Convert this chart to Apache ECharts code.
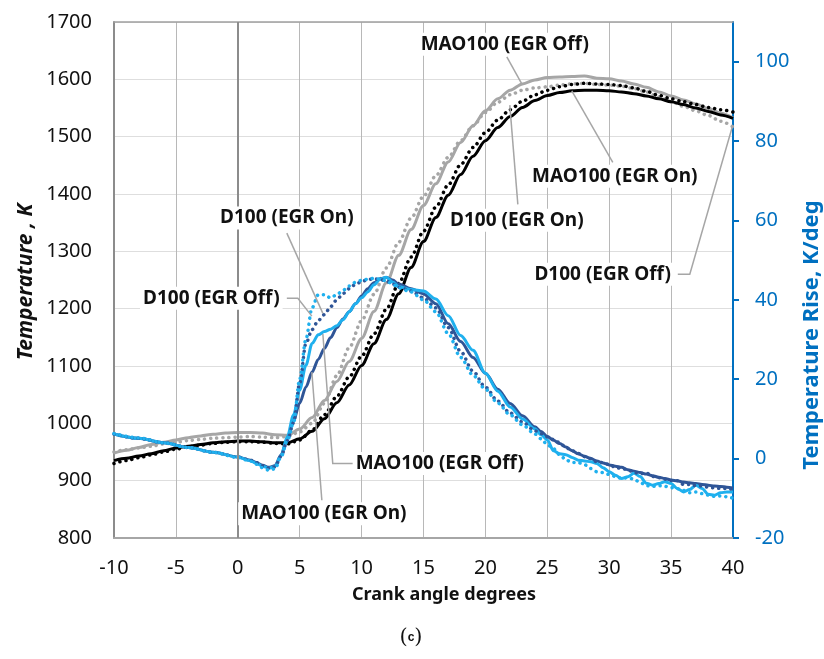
<!DOCTYPE html>
<html><head><meta charset="utf-8">
<script src="https://cdn.jsdelivr.net/npm/echarts@6/dist/echarts.min.js"></script>
<style>html,body{margin:0;padding:0;background:#fff}#c{width:824px;height:659px}</style>
</head><body><div id="c"></div>
<script>
// ---- Temperature (left axis, K) ----
const cadT = [-10,-9,-8,-7,-6,-5,-4,-3,-2,-1,0,1,2,3,4,5,6,7,8,9,10,11,12,13,14,15,16,17,18,19,20,21,22,23,24,25,26,27,28,29,30,31,32,33,34,35,36,37,38,39,40];
const T_MAO_off = [948,953,958,963,967,971,975,978,981,983,984,984,983,980,979,990,1010,1040,1073,1108,1148,1195,1245,1293,1338,1380,1418,1456,1490,1519,1545,1566,1581,1592,1599,1603,1604,1605,1606,1602,1601,1597,1592,1586,1578,1571,1564,1557,1549,1541,1533];
const T_D_off   = [950,954,957,960,964,967,970,972,974,975,976,977,976,975,977,985,1000,1035,1083,1132,1179,1225,1271,1316,1358,1396,1432,1464,1493,1519,1542,1560,1573,1581,1585,1587,1590,1592,1593,1591,1590,1588,1584,1578,1569,1561,1553,1545,1537,1527,1517];
const T_D_on    = [930,935,940,945,950,955,959,962,965,967,968,968,967,965,964,971,988,1015,1047,1081,1117,1156,1199,1244,1290,1335,1377,1416,1451,1481,1507,1529,1547,1562,1573,1581,1587,1591,1593,1592,1591,1589,1585,1579,1572,1566,1561,1556,1551,1547,1543];
const T_MAO_on  = [935,939,943,947,952,957,960,963,966,968,969,969,968,966,966,973,986,1008,1036,1067,1101,1139,1181,1226,1272,1317,1359,1398,1434,1466,1493,1516,1535,1551,1563,1572,1577,1580,1581,1581,1580,1578,1575,1571,1566,1561,1556,1550,1544,1538,1532];

// ---- Temperature rise (right axis, K/deg) ----
const cadR = [-10,-8,-6,-4,-2,0,1,1.5,2,2.5,3,3.5,4,4.5,5,5.5,6,6.5,7,7.5,8,8.5,9,9.5,10,10.5,11,11.5,12,12.5,13,14,15,16,17,18,19,20,21,22,23,24,24.5,25,25.5,26,26.5,27,27.5,28,28.5,29,29.5,30,30.5,31,31.5,32,32.5,33,33.5,34,34.5,35,35.5,36,36.5,37,37.5,38,38.5,39,39.5,40];
const R_MAO_on  = [6.2,5.1,4.0,2.8,1.6,0.4,-0.4,-1.0,-1.7,-2.2,-1.8,1.0,5.0,9.5,14.0,18.0,21.8,25.0,27.8,30.5,33.0,35.2,37.0,39.0,41.0,42.8,44.3,45.3,45.6,45.0,44.0,42.8,41.5,39.0,34.0,29.5,25.5,21.5,17.5,13.9,10.8,8.0,6.8,5.6,4.6,3.8,2.9,2.0,1.2,0.6,0.0,-0.6,-1.1,-1.6,-1.9,-2.2,-2.8,-3.2,-3.5,-3.9,-4.3,-4.7,-5.0,-5.4,-5.6,-5.9,-6.1,-6.3,-6.5,-6.7,-6.9,-7.0,-7.2,-7.4];
const R_MAO_off = [6.2,5.1,4.0,2.8,1.6,0.4,-0.5,-1.2,-1.9,-2.4,-2.0,0.8,5.5,11.0,17.3,23.5,29.0,31.2,32.0,32.6,33.5,35.0,37.0,39.0,40.5,42.0,43.8,45.2,45.7,44.5,43.3,42.6,42.2,40.2,36.0,31.0,27.3,21.5,17.0,13.0,10.0,7.5,6.0,4.7,2.0,1.2,1.0,0.3,-0.4,-0.6,-0.8,-1.2,-2.3,-3.3,-4.2,-5.0,-4.6,-3.7,-4.5,-6.2,-6.7,-6.3,-5.8,-6.3,-7.5,-8.4,-7.8,-6.7,-7.5,-9.0,-9.2,-8.6,-8.4,-8.4];
const R_D_on    = [6.2,5.1,4.0,2.8,1.6,0.4,-0.4,-1.0,-1.8,-2.4,-2.1,0.6,4.5,9.0,19.0,29.0,32.5,34.8,36.3,38.3,40.0,41.6,42.8,43.9,44.6,45.1,45.3,45.1,44.7,44.0,43.2,42.2,40.5,38.0,33.0,27.0,22.0,18.0,14.5,11.5,9.2,7.0,6.3,5.5,4.8,4.0,2.8,2.0,1.3,0.5,0.0,-0.8,-1.0,-1.5,-2.2,-2.5,-2.8,-3.5,-3.8,-3.6,-4.5,-4.8,-5.2,-5.5,-5.6,-6.5,-6.5,-6.8,-6.9,-7.2,-7.4,-7.5,-7.5,-7.8];
const R_D_off   = [6.3,5.2,4.0,2.8,1.6,0.3,-0.6,-1.4,-2.3,-2.9,-2.6,0.5,4.5,9.0,20.0,30.0,38.0,41.3,41.3,40.5,41.3,42.4,43.5,44.4,44.9,45.2,45.4,45.2,44.8,44.0,43.0,42.0,40.0,37.0,31.5,25.5,21.0,17.5,14.0,11.0,8.5,6.2,5.0,3.5,2.5,1.0,-0.3,-1.0,-1.0,-1.5,-2.5,-3.3,-3.5,-4.0,-4.5,-5.0,-4.8,-5.2,-6.0,-6.8,-7.0,-6.8,-7.0,-7.3,-7.6,-8.0,-8.6,-8.4,-8.8,-9.2,-9.5,-9.4,-9.6,-10.0];

// ---- Axis ticks ----
const xTicks = [-10,-5,0,5,10,15,20,25,30,35,40];
const leftTicks = [800,900,1000,1100,1200,1300,1400,1500,1600,1700];
const rightTicks = [-20,0,20,40,60,80,100];

// ---- Annotations (text, axis index, label anchor, leader line) ----
const annText = ['MAO100 (EGR Off)','MAO100 (EGR On)','D100 (EGR On)','D100 (EGR Off)','D100 (EGR On)','D100 (EGR Off)','MAO100 (EGR Off)','MAO100 (EGR On)'];
const annAxis = [0,0,0,0,1,1,1,1];
const annAt = [[21.57,1661],[30.45,1431],[22.54,1354],[29.48,1260],[3.96,60.6],[-2.14,40.4],[16.32,-1.2],[6.95,-13.9]];
const annLeader = [
  [[21.73,1639],[22.94,1592]],
  [[30.29,1455],[26.98,1580]],
  [[22.62,1382],[21.97,1555]],
  [[35.54,1260],[36.51,1260],[39.98,1520]],
  [[3.96,56.8],[6.87,36.6]],
  [[3.96,40.4],[4.85,40.4],[5.98,35.9]],
  [[9.45,-1.2],[7.67,-1.2],[6.87,31.4]],
  [[6.79,-10.5],[5.98,21.8]]
];

const FONT = '"Noto Sans", "DejaVu Sans", sans-serif';
const GREY = '#a6a6a6', BLACK = '#000000', DBLUE = '#2f5597', LBLUE = '#1fb0ee', AXBLUE = '#0070c0';
const DOT = [0.1, 6];

function pairs(xs, ys){ return xs.map((x,i)=>[x, ys[i]]); }
function mk(name, xs, ys, yIdx, color, dotted, width, extra){
  return Object.assign({
    name, type:'line', yAxisIndex:yIdx, data:pairs(xs, ys), showSymbol:false, symbol:'none',
    smooth:0.3, smoothMonotone:'x', silent:true, animation:false,
    lineStyle:{color, width, type: dotted ? DOT : 'solid', cap: dotted ? 'round' : 'butt'}
  }, extra || {});
}

const chart = echarts.init(document.getElementById('c'), null, {renderer:'canvas'});
const option = {
  animation:false,
  backgroundColor:'#fff',
  grid:{left:114, right:91, top:22, bottom:121, containLabel:false},
  xAxis:[
    {type:'value', min:-10, max:40, interval:5, position:'bottom',
     axisLine:{show:true, onZero:false, lineStyle:{color:'#a6a6a6', width:2}},
     axisTick:{show:false},
     axisLabel:{customValues:xTicks, color:'#111', fontFamily:FONT, fontSize:20, margin:20,
       formatter:v=>String(v)},
     splitLine:{show:true, lineStyle:{color:'#b8b8b8', width:1}}},
    {type:'value', min:-10, max:40, interval:5, position:'top',
     axisLine:{show:true, onZero:false, lineStyle:{color:'#a0a0a0', width:1.5}},
     axisTick:{show:false}, axisLabel:{show:false}, splitLine:{show:false}}
  ],
  yAxis:[
    {type:'value', min:800, max:1700, interval:100, position:'left',
     axisLine:{show:true, onZero:false, lineStyle:{color:'#8c8c8c', width:2}},
     axisTick:{show:false},
     axisLabel:{customValues:leftTicks, color:'#111', fontFamily:FONT, fontSize:20, margin:22,
       formatter:v=>String(v)},
     splitLine:{show:true, lineStyle:{color:'#dedede', width:1}}},
    {type:'value', min:-20, max:110, interval:20, position:'right',
     axisLine:{show:true, onZero:false, lineStyle:{color:AXBLUE, width:2}},
     axisTick:{show:true, inside:false, length:6, customValues:rightTicks, lineStyle:{color:AXBLUE, width:2}},
     axisLabel:{customValues:rightTicks, color:AXBLUE, fontFamily:FONT, fontSize:20, margin:22,
       formatter:v=>String(v)},
     splitLine:{show:false}}
  ],
  series:[
    mk('MAO100 (EGR Off) T', cadT, T_MAO_off, 0, GREY, false, 3, {
      markLine:{silent:true, symbol:'none', label:{show:false},
        lineStyle:{color:'#8c8c8c', width:2, type:'solid'}, data:[{xAxis:0}]}}),
    mk('D100 (EGR Off) T', cadT, T_D_off, 0, GREY, true, 3.5),
    mk('D100 (EGR On) T', cadT, T_D_on, 0, BLACK, true, 3.5),
    mk('MAO100 (EGR On) T', cadT, T_MAO_on, 0, BLACK, false, 3),
    mk('MAO100 (EGR On) dT', cadR, R_MAO_on, 1, DBLUE, false, 3),
    mk('MAO100 (EGR Off) dT', cadR, R_MAO_off, 1, LBLUE, false, 3),
    mk('D100 (EGR On) dT', cadR, R_D_on, 1, DBLUE, true, 3.5),
    mk('D100 (EGR Off) dT', cadR, R_D_off, 1, LBLUE, true, 3.5)
  ]
};
chart.setOption(option);

const g = [];
annText.forEach((t, i) => {
  const finder = {xAxisIndex:0, yAxisIndex:annAxis[i]};
  const pts = annLeader[i].map(p => chart.convertToPixel(finder, p));
  g.push({type:'polyline', shape:{points:pts}, style:{stroke:'#a6a6a6', lineWidth:1.5, fill:null}, z:50, silent:true});
  const c = chart.convertToPixel(finder, annAt[i]);
  g.push({type:'text', x:c[0], y:c[1], z:60, silent:true,
    style:{text:t, font:'bold 19px ' + FONT, fill:'#111', align:'center', verticalAlign:'middle',
      backgroundColor:'#fff', padding:[2,3]}});
});
// axis titles
g.push({type:'text', x:26, y:282, rotation:Math.PI/2, silent:true,
  style:{text:'Temperature , K', font:'italic bold 21px ' + FONT, fill:'#111', align:'center', verticalAlign:'middle'}});
g.push({type:'text', x:812, y:335, rotation:Math.PI/2, silent:true,
  style:{text:'Temperature Rise, K/deg', font:'bold 22px ' + FONT, fill:AXBLUE, align:'center', verticalAlign:'middle'}});
g.push({type:'text', x:444, y:595, silent:true,
  style:{text:'Crank angle degrees', font:'bold 18px ' + FONT, fill:'#111', align:'center', verticalAlign:'middle'}});
g.push({type:'text', x:411, y:638, silent:true,
  style:{text:'({b|c})', font:'21px "DejaVu Serif", "Liberation Serif", serif', fill:'#111', align:'center', verticalAlign:'middle',
    rich:{b:{fontWeight:'bold', font:'bold 21px "DejaVu Serif", "Liberation Serif", serif'}}}});
chart.setOption({graphic:g});
</script></body></html>
